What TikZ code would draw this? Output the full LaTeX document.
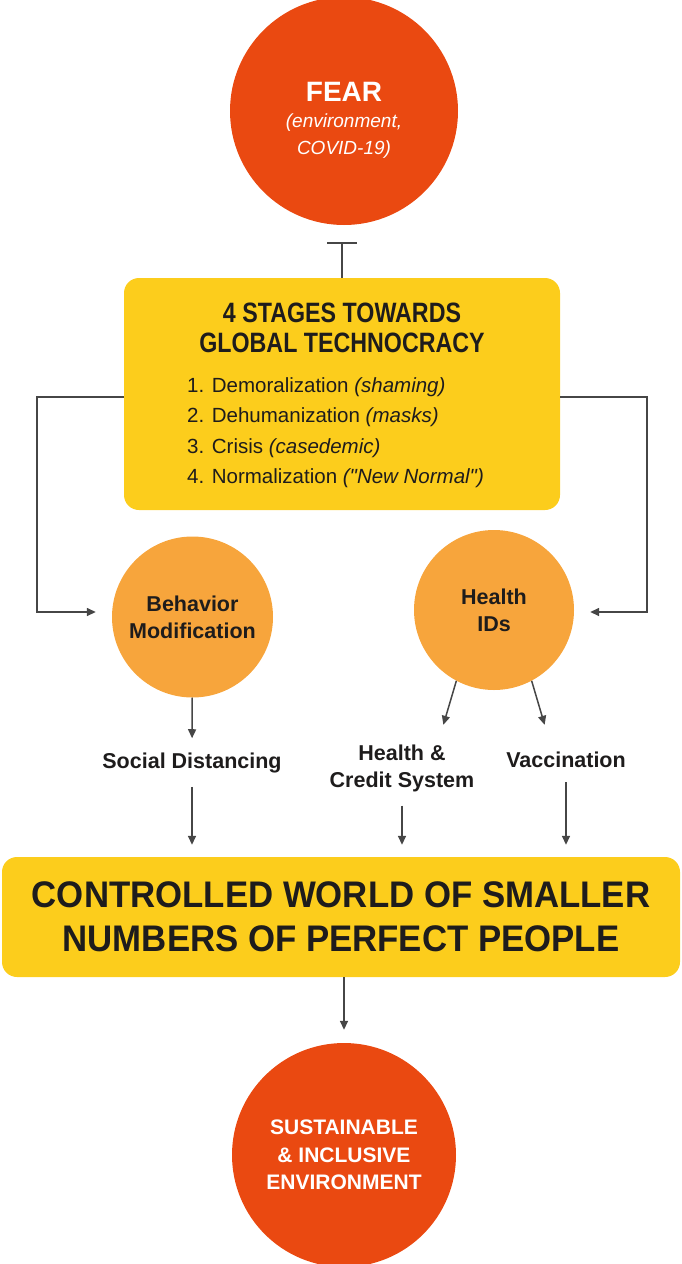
\documentclass[tikz,border=0pt]{standalone}
\usepackage{fontspec}
\setmainfont{Liberation Sans}
\newfontfamily\narrowfont{Liberation Sans}[FakeStretch=0.83]
\newfontfamily\worldfont{Liberation Sans}[FakeStretch=0.94]
\usetikzlibrary{arrows.meta,positioning}

\definecolor{fearred}{RGB}{234,73,17}
\definecolor{stageyellow}{RGB}{252,205,28}
\definecolor{idorange}{RGB}{247,165,60}
\definecolor{linegray}{RGB}{70,70,70}
\definecolor{inkdark}{RGB}{30,28,28}

\tikzset{
  disc/.style={circle, minimum size=#1, inner sep=0pt, align=center},
  panel/.style={rectangle, rounded corners=15pt, fill=stageyellow, inner sep=0pt},
  note/.style={inner xsep=2pt, inner ysep=14pt, align=center, text=inkdark,
    font=\fontsize{21.5}{27}\selectfont\bfseries},
  arr/.style={draw=linegray, line width=1.5pt, -{Triangle[length=9pt,width=8pt]}},
  tee/.style={draw=linegray, line width=1.5pt, -{Bar[width=30pt]}}
}

\begin{document}
\begin{tikzpicture}[x=1pt,y=-1pt]
\useasboundingbox (0,0) rectangle (682,1264);

% top disc
\node[disc=228pt, fill=fearred] (fear) at (344,111) {};
\node[text=white, align=center, inner sep=0pt,
  font=\fontsize{19}{26.5}\selectfont\itshape] (feartext) at (344,120)
  {{\fontsize{28}{27}\selectfont\bfseries\upshape FEAR}\\
   (environment,\\COVID-19)};

% the four stages
\node[panel, minimum width=436pt, minimum height=232pt] (stages) at (342,394) {};
\node[inner sep=0pt, align=center, text=inkdark,
  font=\fontsize{28}{30}\selectfont\narrowfont\bfseries] (stagetitle) at (342,328)
  {4 STAGES TOWARDS\\GLOBAL TECHNOCRACY};
\node[inner sep=0pt, anchor=north west, align=left, text=inkdark,
  font=\fontsize{20.5}{30.5}\selectfont] (stagelist) at (187,377)
  {1. Demoralization \textit{(shaming)}\\
   2. Dehumanization \textit{(masks)}\\
   3. Crisis \textit{(casedemic)}\\
   4. Normalization \textit{(\textquotedbl New Normal\textquotedbl)}};

\node[disc=161pt, fill=idorange, text=inkdark,
  font=\fontsize{21.5}{27}\selectfont\bfseries] (behav) at (192.5,617) {Behavior\\Modification};
\node[disc=160pt, fill=idorange, text=inkdark,
  font=\fontsize{21.5}{27}\selectfont\bfseries] (health) at (494,610) {Health\\IDs};

\node[note] (social) at (192,762.5) {Social Distancing};
\node[note] (credit) at (402,768) {Health \&\\Credit System};
\node[note] (vacc) at (566,760) {Vaccination};

\node[panel, minimum width=678pt, minimum height=120pt, align=center, text=inkdark,
  font=\fontsize{37}{44}\selectfont\worldfont\bfseries] (world) at (341,917)
  {CONTROLLED WORLD OF SMALLER\\NUMBERS OF PERFECT PEOPLE};

% bottom disc
\node[disc=224pt, fill=fearred, text=white,
  font=\fontsize{21}{27.5}\selectfont\bfseries] (sust) at (344,1155)
  {SUSTAINABLE\\\& INCLUSIVE\\ENVIRONMENT};

% connectors
\draw[tee, shorten >=17pt] (stages.north) -- (stages.north |- fear.south);
\draw[arr, shorten >=16pt] (stages.west |- 0,397) -| (37,612) -- (behav.west |- 0,612);
\draw[arr, shorten >=16pt] (stages.east |- 0,397) -| (647,612) -- (health.east |- 0,612);
\draw[arr] (behav) -- (social);
\draw[arr] (health.-118) -- ++(-13,44);
\draw[arr] (health.-62) -- ++(13,44);
\draw[arr, shorten >=12pt] (social) -- (social |- world.north);
\draw[arr, shorten >=12pt] (credit) -- (credit |- world.north);
\draw[arr, shorten >=12pt] (vacc) -- (vacc |- world.north);
\draw[arr, shorten >=13pt] (world.south -| sust) -- (sust);
\end{tikzpicture}
\end{document}
